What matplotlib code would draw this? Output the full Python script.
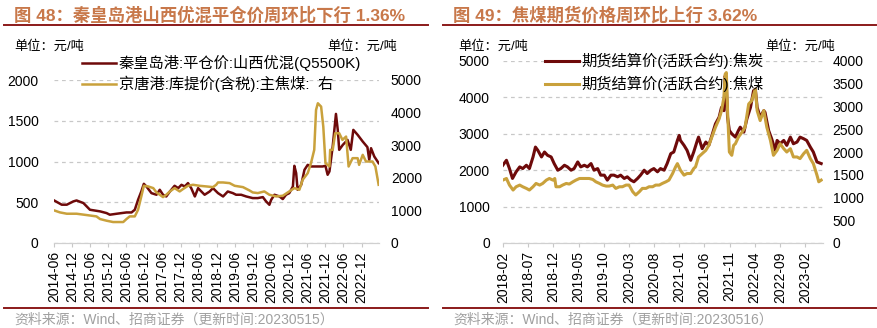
import matplotlib
matplotlib.use("Agg")
import matplotlib.pyplot as plt
from matplotlib.lines import Line2D

plt.rcParams['font.family'] = ['Liberation Sans', 'Noto Sans CJK SC']
plt.rcParams['axes.unicode_minus'] = False

# ---------------- 数据 ----------------
# 图48 左轴：秦皇岛港 山西优混 平仓价（x 为小数年份）
qhd_x = [2014.42, 2014.63, 2014.77, 2014.95, 2015.04, 2015.23, 2015.41, 2015.69, 2015.87, 2015.96,
         2016.15, 2016.42, 2016.56, 2016.65, 2016.74, 2016.83, 2016.90, 2016.97, 2017.11, 2017.25,
         2017.34, 2017.43, 2017.52, 2017.62, 2017.75, 2017.85, 2017.94, 2018.03, 2018.12, 2018.21,
         2018.31, 2018.40, 2018.49, 2018.58, 2018.72, 2018.81, 2018.95, 2019.09, 2019.22, 2019.36,
         2019.45, 2019.59, 2019.73, 2019.91, 2020.05, 2020.19, 2020.28, 2020.37, 2020.42, 2020.51,
         2020.65, 2020.74, 2020.83, 2020.92, 2021.02, 2021.06, 2021.11, 2021.15, 2021.25, 2021.34,
         2021.43, 2021.52, 2021.66, 2021.84, 2021.92, 2021.98, 2022.03, 2022.12, 2022.21, 2022.26,
         2022.30, 2022.40, 2022.53, 2022.62, 2022.69, 2022.81, 2022.95, 2023.08, 2023.13, 2023.18,
         2023.27, 2023.39]
qhd_y = [522, 470, 470, 510, 522, 490, 408, 388, 367, 347,
         359, 375, 375, 408, 530, 632, 726, 694, 612, 592,
         653, 592, 571, 632, 702, 673, 714, 694, 735, 673,
         571, 673, 632, 592, 632, 673, 612, 571, 632, 612,
         592, 592, 571, 551, 551, 563, 510, 469, 530, 592,
         571, 539, 592, 612, 694, 947, 857, 653, 714, 898,
         959, 939, 939, 939, 947, 837, 878, 1184, 1584, 1388,
         1143, 1204, 1265, 1143, 1388, 1327, 1245, 1176, 1020, 1163,
         1061, 980]

# 图48 右轴：京唐港 库提价(含税) 主焦煤
jt_x = [2014.42, 2014.58, 2014.77, 2015.04, 2015.32, 2015.59, 2015.69, 2015.87, 2016.05, 2016.33,
        2016.42, 2016.51, 2016.65, 2016.74, 2016.83, 2016.90, 2017.02, 2017.16, 2017.25, 2017.34,
        2017.43, 2017.52, 2017.62, 2017.75, 2017.89, 2017.98, 2018.12, 2018.26, 2018.44, 2018.63,
        2018.81, 2018.90, 2018.95, 2019.09, 2019.27, 2019.41, 2019.64, 2019.82, 2019.91, 2020.05,
        2020.23, 2020.37, 2020.56, 2020.74, 2020.92, 2021.06, 2021.20, 2021.29, 2021.43, 2021.52,
        2021.61, 2021.66, 2021.71, 2021.80, 2021.86, 2021.92, 2022.03, 2022.05, 2022.12, 2022.19,
        2022.30, 2022.39, 2022.49, 2022.56, 2022.67, 2022.81, 2022.85, 2022.95, 2023.04, 2023.22,
        2023.30, 2023.39]
jt_y = [1000, 939, 898, 898, 857, 816, 735, 684, 643, 643,
        735, 816, 816, 1020, 1429, 1755, 1735, 1684, 1551, 1480,
        1408, 1480, 1582, 1684, 1582, 1653, 1755, 1786, 1755, 1735,
        1714, 1786, 1857, 1857, 1837, 1755, 1714, 1612, 1551, 1531,
        1582, 1480, 1429, 1449, 1582, 1684, 1633, 1939, 2143, 2449,
        2857, 4082, 4286, 4184, 3571, 2449, 2347, 2857, 2857, 3367,
        3367, 3163, 3265, 2347, 2602, 2602, 2398, 2704, 2500, 2500,
        2347, 1786]

# 图49 左轴：期货结算价(活跃合约):焦炭
jtan_x = [2018.08, 2018.14, 2018.19, 2018.24, 2018.30, 2018.36, 2018.41, 2018.47, 2018.52, 2018.58,
          2018.62, 2018.66, 2018.72, 2018.77, 2018.82, 2018.88, 2018.93, 2018.99, 2019.04, 2019.10,
          2019.15, 2019.21, 2019.26, 2019.32, 2019.37, 2019.43, 2019.48, 2019.54, 2019.59, 2019.65,
          2019.70, 2019.76, 2019.81, 2019.87, 2019.92, 2019.98, 2020.03, 2020.09, 2020.14, 2020.20,
          2020.25, 2020.31, 2020.36, 2020.42, 2020.47, 2020.53, 2020.58, 2020.64, 2020.69, 2020.75,
          2020.80, 2020.86, 2020.91, 2020.97, 2021.00, 2021.02, 2021.08, 2021.13, 2021.19, 2021.24,
          2021.30, 2021.32, 2021.38, 2021.44, 2021.49, 2021.55, 2021.60, 2021.66, 2021.70, 2021.74,
          2021.76, 2021.78, 2021.80, 2021.83, 2021.87, 2021.93, 2021.98, 2022.01, 2022.07, 2022.12,
          2022.18, 2022.23, 2022.26, 2022.29, 2022.34, 2022.40, 2022.42, 2022.48, 2022.53, 2022.59,
          2022.62, 2022.67, 2022.73, 2022.78, 2022.84, 2022.89, 2022.95, 2023.00, 2023.06, 2023.11,
          2023.17, 2023.22, 2023.28, 2023.35]
jtan_y = [2136, 2273, 2045, 1773, 1955, 2091, 2045, 2136, 2045, 2364,
          2636, 2545, 2364, 2500, 2409, 2364, 2182, 2000, 2045, 2136,
          2091, 2000, 2045, 2227, 2091, 2136, 2091, 2182, 2000, 2045,
          1864, 1864, 1727, 1864, 1864, 1818, 1864, 1773, 1818, 1727,
          1682, 1773, 1864, 2000, 1909, 2000, 2045, 1955, 2045, 2000,
          2182, 2455, 2500, 2818, 2955, 2818, 2682, 2545, 2273, 2500,
          2818, 2909, 2591, 2773, 2682, 3000, 3273, 3455, 3727, 3636,
          4591, 4364, 3455, 3091, 3000, 2909, 3091, 3182, 3045, 3409,
          3727, 4182, 4227, 3727, 3455, 3636, 3591, 3091, 2864, 2545,
          2818, 2727, 2818, 2682, 2909, 2727, 2773, 2909, 2864, 2818,
          2636, 2500, 2227, 2182]

# 图49 右轴：期货结算价(活跃合约):焦煤
jm_x = [2018.08, 2018.14, 2018.19, 2018.25, 2018.30, 2018.36, 2018.41, 2018.47, 2018.52, 2018.58,
        2018.63, 2018.69, 2018.74, 2018.80, 2018.85, 2018.91, 2018.94, 2018.96, 2019.02, 2019.07,
        2019.13, 2019.18, 2019.24, 2019.29, 2019.35, 2019.40, 2019.46, 2019.51, 2019.57, 2019.62,
        2019.68, 2019.73, 2019.79, 2019.84, 2019.90, 2019.95, 2020.01, 2020.06, 2020.12, 2020.17,
        2020.23, 2020.28, 2020.34, 2020.39, 2020.45, 2020.50, 2020.56, 2020.61, 2020.67, 2020.72,
        2020.78, 2020.83, 2020.89, 2020.94, 2020.97, 2021.02, 2021.08, 2021.13, 2021.19, 2021.24,
        2021.27, 2021.32, 2021.38, 2021.44, 2021.49, 2021.55, 2021.60, 2021.66, 2021.70, 2021.74,
        2021.76, 2021.78, 2021.80, 2021.83, 2021.87, 2021.90, 2021.93, 2021.98, 2022.04, 2022.09,
        2022.15, 2022.20, 2022.26, 2022.29, 2022.34, 2022.40, 2022.45, 2022.51, 2022.56, 2022.62,
        2022.67, 2022.73, 2022.78, 2022.84, 2022.89, 2022.95, 2023.00, 2023.06, 2023.11, 2023.17,
        2023.22, 2023.28, 2023.31, 2023.35]
jm_y = [1382, 1418, 1273, 1164, 1236, 1273, 1236, 1200, 1164, 1236,
        1309, 1273, 1309, 1382, 1418, 1382, 1418, 1236, 1236, 1273,
        1309, 1295, 1345, 1382, 1418, 1418, 1418, 1418, 1396, 1345,
        1309, 1273, 1251, 1251, 1273, 1200, 1236, 1236, 1273, 1273,
        1127, 1055, 1127, 1200, 1200, 1236, 1236, 1273, 1273, 1309,
        1345, 1382, 1527, 1673, 1745, 1600, 1491, 1527, 1527, 1636,
        1673, 1891, 1964, 2036, 2145, 2364, 2545, 2727, 2909, 3200,
        3709, 3745, 2909, 2000, 1927, 2145, 2182, 2327, 2436, 2545,
        3055, 3127, 3382, 2909, 2691, 2909, 2545, 2255, 1927, 2036,
        2182, 2073, 2000, 2073, 1891, 1891, 1855, 1964, 2036, 1855,
        1745, 1491, 1345, 1382]

left_ticks = ['2014-06', '2014-12', '2015-06', '2015-12', '2016-06', '2016-12', '2017-06', '2017-12',
              '2018-06', '2018-12', '2019-06', '2019-12', '2020-06', '2020-12', '2021-06', '2021-12',
              '2022-06', '2022-12']
right_ticks = ['2018-02', '2018-07', '2018-12', '2019-05', '2019-10', '2020-03', '2020-08', '2021-01',
               '2021-06', '2021-11', '2022-04', '2022-09', '2023-02']

title48 = '图 48：秦皇岛港山西优混平仓价周环比下行 1.36%'
title49 = '图 49：焦煤期货价格周环比上行 3.62%'
src48 = '资料来源：Wind、招商证券（更新时间:20230515）'
src49 = '资料来源：Wind、招商证券（更新时间:20230516）'

# ---------------- 样式 ----------------
W, H = 878, 328
RED = '#6E0A0A'
GOLD = '#C9A13C'
TITLE_C = '#C8784A'
LINE_C = '#8B1A1A'
GRID_C = '#C8C8C8'


def tick_pos(labels):
    return [int(s[:4]) + (int(s[5:]) - 1) / 12 for s in labels]


def fx(px):
    return px / W


def fy(py):
    return 1 - py / H


fig = plt.figure(figsize=(W / 100, H / 100), dpi=100)


def style_axes(ax, ax2, xticks, xlabels, lpad, rpad):
    for a in (ax, ax2):
        for s in ('left', 'right', 'top'):
            a.spines[s].set_visible(False)
        a.spines['bottom'].set_color('#D0D0D0')
    ax.grid(axis='y', color=GRID_C, linestyle=(0, (3, 3)), linewidth=0.9)
    ax.set_axisbelow(True)
    ax.tick_params(axis='y', length=0, pad=lpad, labelsize=10)
    ax2.tick_params(axis='y', length=0, pad=rpad, labelsize=10)
    ax.set_xticks(xticks)
    ax.set_xticklabels(xlabels, rotation=90, fontsize=10)
    ax.tick_params(axis='x', length=3, color='#C8C8C8', pad=3)


# ---------------- 图48 ----------------
axL = fig.add_axes([fx(54), fy(243), fx(325), 163 / H])
axL2 = axL.twinx()
l1, = axL.plot(qhd_x, qhd_y, color=RED, lw=1.8)
l2, = axL2.plot(jt_x, jt_y, color=GOLD, lw=1.8)
axL.set_xlim(2014.417, 2023.40)
axL.set_ylim(0, 2000)
axL.set_yticks([0, 500, 1000, 1500, 2000])
axL2.set_ylim(0, 5000)
axL2.set_yticks([0, 1000, 2000, 3000, 4000, 5000])
style_axes(axL, axL2, tick_pos(left_ticks), left_ticks, 11, 8.5)
fig.legend([l1, l2], ['秦皇岛港:平仓价:山西优混(Q5500K)', '京唐港:库提价(含税):主焦煤:  右'],
           loc='upper left', bbox_to_anchor=(fx(82), fy(55)), frameon=False, fontsize=11,
           handlelength=2.2, handletextpad=0.2, labelspacing=0.3, borderpad=0, borderaxespad=0)

# ---------------- 图49 ----------------
axR = fig.add_axes([fx(503), fy(243), fx(320), 182 / H])
axR2 = axR.twinx()
r1, = axR.plot(jtan_x, jtan_y, color=RED, lw=2.2)
r2, = axR2.plot(jm_x, jm_y, color=GOLD, lw=2.2)
axR.set_xlim(2018.083, 2023.38)
axR.set_ylim(0, 5000)
axR.set_yticks([0, 1000, 2000, 3000, 4000, 5000])
axR2.set_ylim(0, 4000)
axR2.set_yticks([0, 500, 1000, 1500, 2000, 2500, 3000, 3500, 4000])
style_axes(axR, axR2, tick_pos(right_ticks), right_ticks, 9.5, 7)
fig.legend([r1, r2], ['期货结算价(活跃合约):焦炭', '期货结算价(活跃合约):焦煤'],
           loc='upper left', bbox_to_anchor=(fx(545), fy(53)), frameon=False, fontsize=11,
           handlelength=2.2, handletextpad=0.2, labelspacing=0.45, borderpad=0, borderaxespad=0)

# ---------------- 标题、单位、来源 ----------------
for x0, x1, title, src in [(4, 428, title48, src48), (443, 876, title49, src49)]:
    fig.text(fx(x0 + 10), fy(15), title, color=TITLE_C, fontsize=12.5, fontweight='bold',
             va='center', ha='left')
    fig.add_artist(Line2D([fx(x0), fx(x1)], [fy(25), fy(25)], color=LINE_C, lw=1.4))
    fig.add_artist(Line2D([fx(x0), fx(x1)], [fy(308), fy(308)], color=LINE_C, lw=1.4))
    fig.text(fx(x0 + 10), fy(320), src, color='#A0A0A0', fontsize=10, va='center', ha='left')

for x, ha in [(14, 'left'), (397, 'right'), (458, 'left'), (835, 'right')]:
    fig.text(fx(x), fy(46), '单位：元/吨', fontsize=9.5, va='center', ha=ha)

fig.savefig('out.png', dpi=100)
